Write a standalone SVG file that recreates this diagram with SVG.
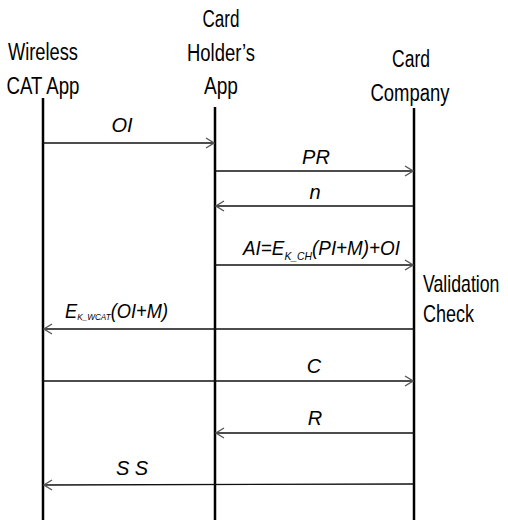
<svg xmlns="http://www.w3.org/2000/svg" width="508" height="520" viewBox="0 0 508 520">
<style>
.hdr{font-family:"Liberation Sans",Arial,sans-serif;font-size:23px;fill:#000;}
.lbl{font-family:"Liberation Sans",Arial,sans-serif;font-size:20px;font-style:italic;fill:#000;}
.life{stroke:#000;stroke-width:2.5;fill:none;}
.msg{stroke:#111;stroke-width:1.3;fill:none;marker-end:url(#arr);}
</style>
<defs>
<marker id="arr" viewBox="0 0 10 12" refX="9" refY="6" markerWidth="10" markerHeight="12" markerUnits="userSpaceOnUse" orient="auto">
<path d="M1,1 L9,6 L1,11" fill="none" stroke="#555" stroke-width="1.3"/>
</marker>
</defs>
<rect width="508" height="520" fill="#fff"/>
<g id="wireless-cat-app">
<text class="hdr" x="43" y="60" text-anchor="middle" textLength="70" lengthAdjust="spacingAndGlyphs">Wireless</text>
<text class="hdr" x="43" y="94" text-anchor="middle" textLength="73" lengthAdjust="spacingAndGlyphs">CAT App</text>
<line class="life" x1="43" y1="98" x2="43" y2="520"/>
</g>
<g id="card-holders-app">
<text class="hdr" x="221" y="27" text-anchor="middle" textLength="37" lengthAdjust="spacingAndGlyphs">Card</text>
<text class="hdr" x="221" y="61" text-anchor="middle" textLength="68" lengthAdjust="spacingAndGlyphs">Holder’s</text>
<text class="hdr" x="221" y="94" text-anchor="middle" textLength="34" lengthAdjust="spacingAndGlyphs">App</text>
<line class="life" x1="215" y1="107" x2="215" y2="520"/>
</g>
<g id="card-company">
<text class="hdr" x="411" y="67" text-anchor="middle" textLength="38" lengthAdjust="spacingAndGlyphs">Card</text>
<text class="hdr" x="410" y="101" text-anchor="middle" textLength="79" lengthAdjust="spacingAndGlyphs">Company</text>
<line class="life" x1="414" y1="108" x2="414" y2="520"/>
<text class="hdr" transform="translate(423,292) scale(0.77,1)" x="0" y="0">Validation</text>
<text class="hdr" x="423" y="322" textLength="51" lengthAdjust="spacingAndGlyphs">Check</text>
</g>
<g id="connectors">
<line class="msg" x1="43" y1="143" x2="214" y2="143"/>
<line class="msg" x1="215" y1="171" x2="413" y2="171"/>
<line class="msg" x1="414" y1="206" x2="216" y2="206"/>
<line class="msg" x1="215" y1="265" x2="413" y2="265"/>
<line class="msg" x1="414" y1="329" x2="44" y2="329"/>
<line class="msg" x1="43" y1="381" x2="413" y2="381"/>
<line class="msg" x1="414" y1="433" x2="216" y2="433"/>
<line class="msg" x1="414" y1="484" x2="44" y2="485"/>
<text class="lbl" x="122" y="132" text-anchor="middle">OI</text>
<text class="lbl" x="316" y="164" text-anchor="middle">PR</text>
<text class="lbl" x="315" y="199" text-anchor="middle">n</text>
<text class="lbl" x="243" y="255" textLength="157" lengthAdjust="spacingAndGlyphs">AI=E<tspan font-size="11" dy="5">K_CH</tspan><tspan dy="-5">(PI+M)+OI</tspan></text>
<text class="lbl" x="65" y="318" textLength="103" lengthAdjust="spacingAndGlyphs">E<tspan font-size="9" dy="2">K_WCAT</tspan><tspan dy="-2">(OI+M)</tspan></text>
<text class="lbl" x="314" y="373" text-anchor="middle">C</text>
<text class="lbl" x="315" y="425" text-anchor="middle">R</text>
<text class="lbl" x="132" y="475" text-anchor="middle">S S</text>
</g>
</svg>
